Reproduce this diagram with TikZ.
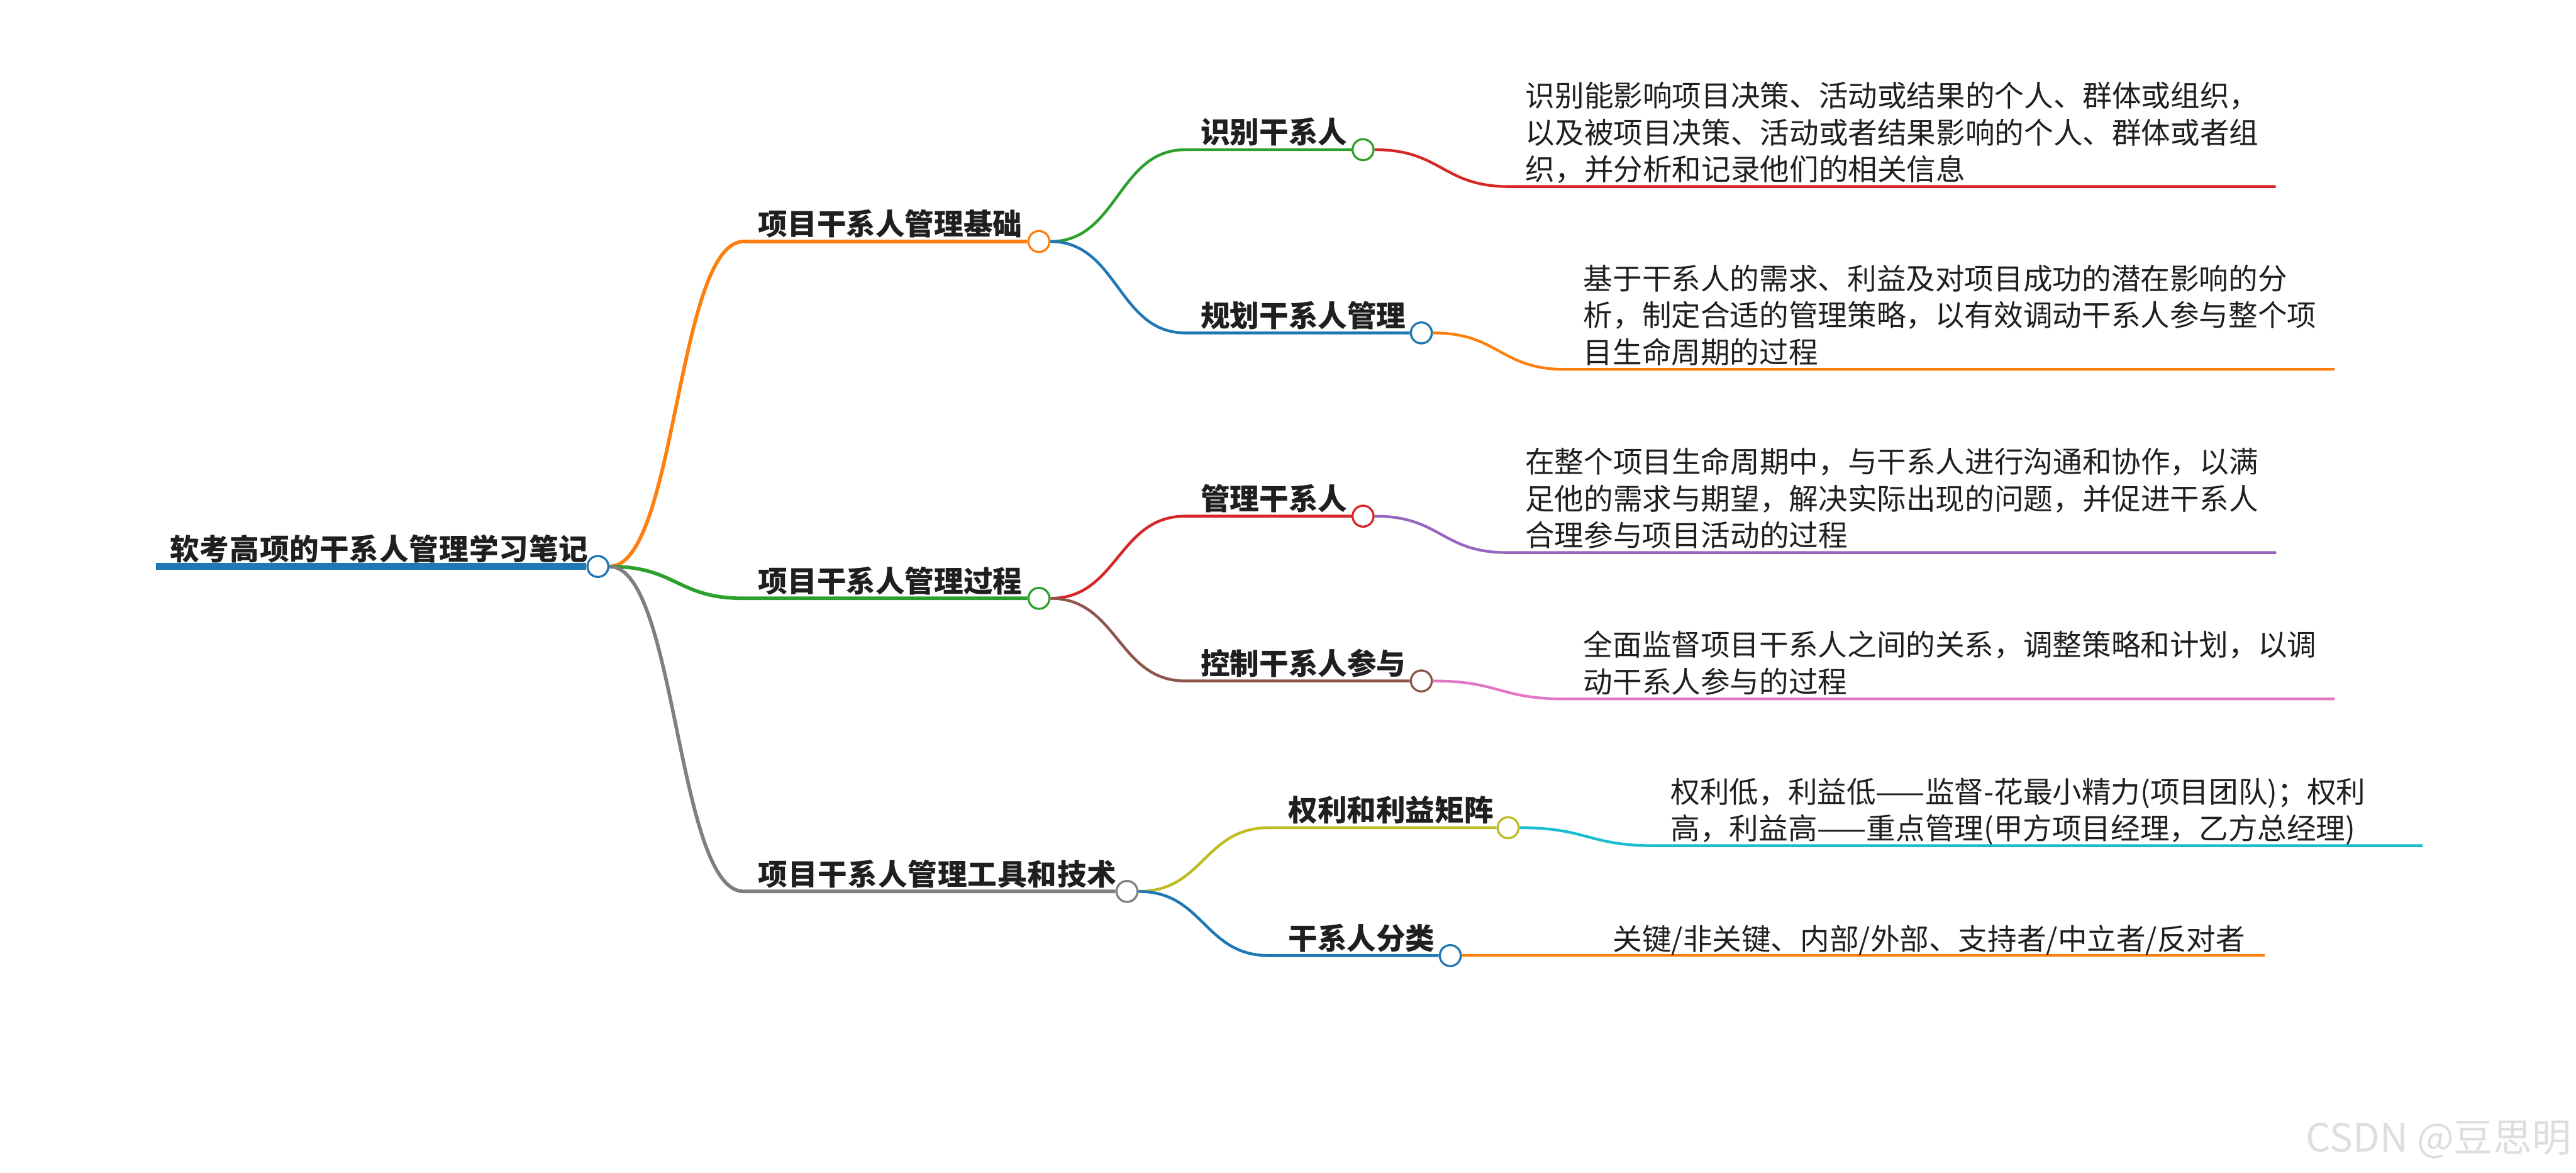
\documentclass[tikz,border=0pt]{standalone}
\usepackage{fontspec}
\setmainfont{Noto Sans CJK SC}
\usetikzlibrary{calc}

\definecolor{tabblue}{HTML}{1F77B4}
\definecolor{taborange}{HTML}{FF7F0E}
\definecolor{tabgreen}{HTML}{2CA02C}
\definecolor{tabred}{HTML}{D62728}
\definecolor{tabpurple}{HTML}{9467BD}
\definecolor{tabbrown}{HTML}{8C564B}
\definecolor{tabpink}{HTML}{E377C2}
\definecolor{tabgray}{HTML}{7F7F7F}
\definecolor{tabolive}{HTML}{BCBD22}
\definecolor{tabcyan}{HTML}{17BECF}
\definecolor{ink}{HTML}{1F1F1F}

\begin{document}
\begin{tikzpicture}[
    hub/.style={circle,draw=#1,fill=white,line width=0.05cm,minimum size=0.5cm,inner sep=0pt},
    topic/.style={anchor=base west,inner sep=0pt,text=ink,font=\fontsize{19.9pt}{25pt}\selectfont\bfseries},
    note/.style={anchor=base west,inner sep=0pt,text=ink,align=left,font=\fontsize{19.9pt}{25pt}\selectfont},
    link/.style={to path={let \p1=(\tikztostart),\p2=(\tikztotarget) in
        .. controls ({(\x1+\x2)/2},\y1) and ({(\x1+\x2)/2},\y2) .. (\tikztotarget)}},
    lv0/.style={line width=0.16cm},
    lv1/.style={line width=0.085cm},
    lv2/.style={line width=0.067cm},
    lv3/.style={line width=0.065cm}]
    \useasboundingbox (0,0) rectangle (61.44,27.96);

    \node[hub=tabblue] (root) at (14.26,14.45) {};
    \coordinate (r0) at (3.72,14.45);
    \draw[tabblue,lv0] (r0) -- (root.west);
    \node[topic] (troot) at (4.05,14.60) {\addfontfeatures{LetterSpace=2.0}软考高项的干系人管理学习笔记};

    \node[hub=taborange] (jichu) at (24.78,22.20) {};
    \node[hub=tabgreen] (guocheng) at (24.78,13.69) {};
    \node[hub=tabgray] (gongju) at (26.88,6.70) {};
    \coordinate (s1) at (17.74,22.20);
    \coordinate (s2) at (17.74,13.69);
    \coordinate (s3) at (17.74,6.70);
    \draw[taborange,lv1] (root.east) to[link] (s1) -- (jichu.west);
    \draw[tabgreen,lv1] (root.east) to[link] (s2) -- (guocheng.west);
    \draw[tabgray,lv1] (root.east) to[link] (s3) -- (gongju.west);
    \node[topic] (tjichu) at (18.08,22.35) {项目干系人管理基础};
    \node[topic] (tguocheng) at (18.08,13.84) {项目干系人管理过程};
    \node[topic] (tgongju) at (18.08,6.85) {\addfontfeatures{LetterSpace=2.0}项目干系人管理工具和技术};

    \node[hub=tabgreen] (shibie) at (32.51,24.39) {};
    \node[hub=tabblue] (guihua) at (33.90,20.02) {};
    \coordinate (s11) at (28.27,24.39);
    \coordinate (s12) at (28.27,20.02);
    \draw[tabgreen,lv2] (jichu.east) to[link] (s11) -- (shibie.west);
    \draw[tabblue,lv2] (jichu.east) to[link] (s12) -- (guihua.west);
    \node[topic] (tshibie) at (28.63,24.54) {识别干系人};
    \node[topic] (tguihua) at (28.63,20.17) {规划干系人管理};

    \node[hub=tabred] (guanli) at (32.51,15.65) {};
    \node[hub=tabbrown] (kongzhi) at (33.90,11.72) {};
    \coordinate (s21) at (28.27,15.65);
    \coordinate (s22) at (28.27,11.72);
    \draw[tabred,lv2] (guocheng.east) to[link] (s21) -- (guanli.west);
    \draw[tabbrown,lv2] (guocheng.east) to[link] (s22) -- (kongzhi.west);
    \node[topic] (tguanli) at (28.63,15.80) {管理干系人};
    \node[topic] (tkongzhi) at (28.63,11.87) {控制干系人参与};

    \node[hub=tabolive] (juzhen) at (35.97,8.22) {};
    \node[hub=tabblue] (fenlei) at (34.59,5.17) {};
    \coordinate (s31) at (30.27,8.22);
    \coordinate (s32) at (30.27,5.17);
    \draw[tabolive,lv2] (gongju.east) to[link] (s31) -- (juzhen.west);
    \draw[tabblue,lv2] (gongju.east) to[link] (s32) -- (fenlei.west);
    \node[topic] (tjuzhen) at (30.72,8.37) {权利和利益矩阵};
    \node[topic] (tfenlei) at (30.72,5.32) {干系人分类};

    \coordinate (a1) at (36.00,23.51);
    \coordinate (b1) at (54.28,23.51);
    \draw[tabred,lv3] (shibie.east) to[link] (a1) -- (b1);
    \node[note] (d1) at (36.38,23.66) {识别能影响项目决策、活动或结果的个人、群体或组织，\\以及被项目决策、活动或者结果影响的个人、群体或者组\\织，并分析和记录他们的相关信息};

    \coordinate (a2) at (37.34,19.15);
    \coordinate (b2) at (55.68,19.15);
    \draw[taborange,lv3] (guihua.east) to[link] (a2) -- (b2);
    \node[note] (d2) at (37.76,19.30) {基于干系人的需求、利益及对项目成功的潜在影响的分\\析，制定合适的管理策略，以有效调动干系人参与整个项\\目生命周期的过程};

    \coordinate (a3) at (35.96,14.78);
    \coordinate (b3) at (54.29,14.78);
    \draw[tabpurple,lv3] (guanli.east) to[link] (a3) -- (b3);
    \node[note] (d3) at (36.37,14.93) {在整个项目生命周期中，与干系人进行沟通和协作，以满\\足他的需求与期望，解决实际出现的问题，并促进干系人\\合理参与项目活动的过程};

    \coordinate (a4) at (37.34,11.29);
    \coordinate (b4) at (55.68,11.29);
    \draw[tabpink,lv3] (kongzhi.east) to[link] (a4) -- (b4);
    \node[note] (d4) at (37.76,11.44) {全面监督项目干系人之间的关系，调整策略和计划，以调\\动干系人参与的过程};

    \coordinate (a5) at (39.48,7.79);
    \coordinate (b5) at (57.78,7.79);
    \draw[tabcyan,lv3] (juzhen.east) to[link] (a5) -- (b5);
    \node[note] (d5) at (39.84,7.94) {权利低，利益低——监督-花最小精力(项目团队)；权利\\高，利益高——重点管理(甲方项目经理，乙方总经理)};

    \coordinate (b6) at (54.02,5.17);
    \draw[taborange,lv3] (fenlei.east) -- (b6);
    \node[note] (d6) at (38.46,5.31) {关键/非关键、内部/外部、支持者/中立者/反对者};

    \node[anchor=base east,inner sep=0pt,text=black!13,font=\fontsize{26.5pt}{30pt}\selectfont] (wm) at (61.33,0.49) {CSDN @豆思明};
\end{tikzpicture}
\end{document}
